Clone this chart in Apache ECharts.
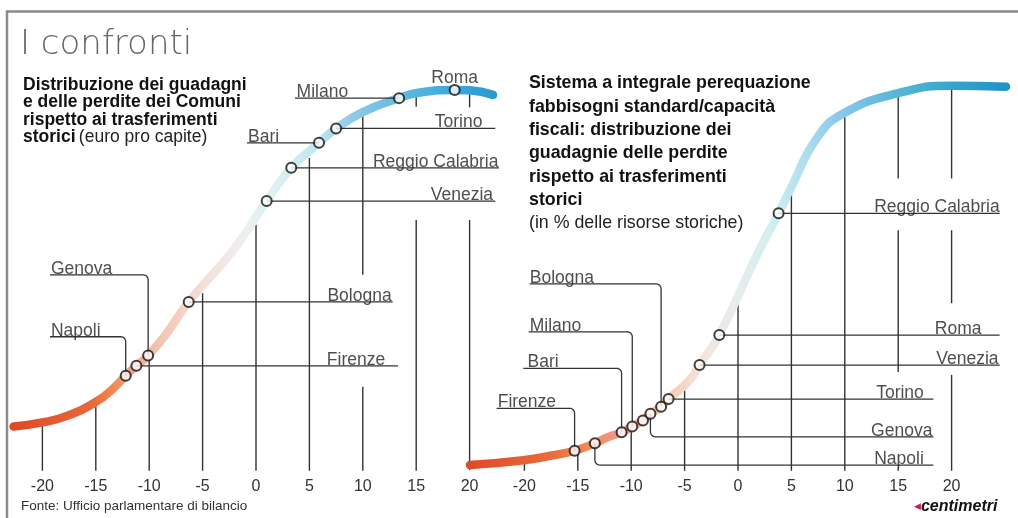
<!DOCTYPE html>
<html><head><meta charset="utf-8">
<script src="https://cdn.jsdelivr.net/npm/echarts@6/dist/echarts.min.js"></script>
<style>html,body{margin:0;padding:0;background:#fff}#c{width:1018px;height:518px}</style>
</head><body><div id="c"></div>
<script>
// ---------------- DATA ----------------
const tickLabels = [-20, -15, -10, -5, 0, 5, 10, 15, 20];

// Left panel: euro pro capite
const leftCurve = [[-22.7,10.6],[-20,11.6],[-17.7,13.2],[-15,16.6],[-13.4,19.8],[-12.2,23.0],[-11.2,25.4],[-10.1,27.9],[-8.4,33.2],[-6.3,41.0],[-2.1,53.7],[1.0,65.6],[3.3,73.7],[5.9,79.8],[7.5,83.3],[10,87.3],[13.4,90.7],[15.2,92.0],[18.6,92.7],[20.0,92.6],[22.2,91.5]];
const leftNames = ['Napoli','Firenze','Genova','Bologna','Venezia','Reggio Calabria','Bari','Torino','Milano','Roma'];
const leftX = [-12.2, -11.2, -10.1, -6.3, 1.0, 3.3, 5.9, 7.5, 13.4, 18.6];
const leftY = [23.0, 25.4, 27.9, 41.0, 65.6, 73.7, 79.8, 83.3, 90.7, 92.7];
const leftTickLines = [[-20,11.6,-1],[-15,16.6,-1],[-10,27.9,-1],[-5,43.1,-1],[0,59.8,-1],[5,76.1,-1],[10,86.6,47.6],[10,20.3,-1],[15,91.0,88.6],[15,61,-1],[20,93.2,88.5],[20,61,0]];

// Right panel: % delle risorse storiche
const rightCurve = [[-25.1,1.2],[-20.1,2.4],[-17.3,3.6],[-15.3,4.7],[-13.4,6.5],[-12.3,7.9],[-10.9,9.2],[-9.9,10.6],[-8.9,12.1],[-8.2,13.7],[-7.2,15.4],[-6.5,17.3],[-4.5,22.0],[-3.6,25.6],[-1.75,32.9],[1.4,50.4],[2.7,57.2],[3.8,62.6],[4.9,68.5],[7.4,81.0],[9.9,87.0],[15.0,91.9],[20.0,93.7],[25.1,93.5]];
const rightNames = ['Firenze','Napoli','Bari','Milano','','Genova','Bologna','Torino','Venezia','Roma','Reggio Calabria'];
const rightX = [-15.3, -13.4, -10.9, -9.9, -8.9, -8.2, -7.2, -6.5, -3.6, -1.75, 3.8];
const rightY = [4.7, 6.5, 9.2, 10.6, 12.1, 13.7, 15.4, 17.3, 25.6, 32.9, 62.6];
const rightTickLines = [[-20,2.4,-1],[-15,4.7,-1],[-10,10.6,-1],[-5,19.9,-1],[0,41.6,-1],[5,69.9,-1],[10,87.0,-1],[15,91.9,71.1],[15,58.5,23.9],[15,0.6,-1],[20,93.9,71.1],[20,58.5,40.7],[20,23.2,-1]];

// ---------------- LAYOUT (annotation placement) ----------------
const leftLayout = [
  {t:'EL', turnY:32.5, end:-19.3, lab:-19.2},
  {t:'R', end:13.3, lab:12.1},
  {t:'EL', turnY:47.6, end:-19.3, lab:-19.2},
  {t:'R', end:12.8, lab:12.7},
  {t:'R', end:22.4, lab:22.2},
  {t:'R', end:22.75, lab:22.7},
  {t:'L', end:-0.84, lab:-0.75},
  {t:'R', end:22.4, lab:21.2},
  {t:'L', end:3.65, lab:3.8},
  {t:'T'}
];
const rightLayout = [
  {t:'EL', turnY:15.05, end:-22.6, lab:-22.5},
  {t:'ER', turnY:1.2, end:18.3, lab:17.4},
  {t:'EL', turnY:24.8, end:-20.1, lab:-19.7},
  {t:'EL', turnY:33.7, end:-19.6, lab:-19.5},
  {t:'N'},
  {t:'ER', turnY:8.1, end:18.3, lab:18.2},
  {t:'EL', turnY:45.4, end:-19.5, lab:-19.5},
  {t:'R', end:18.3, lab:17.4},
  {t:'R', end:24.5, lab:24.4},
  {t:'R', end:24.5, lab:22.8},
  {t:'R', end:24.5, lab:24.5}
];

const GRID_TOP = 60, GRID_H = 410;
const grids = [
  {left: 10.36, top: GRID_TOP, width: 491.28, height: GRID_H, min: -23, max: 23},
  {left: 465.66, top: GRID_TOP, width: 544.68, height: GRID_H, min: -25.5, max: 25.5}
];
const FONT = "'Liberation Sans', Arial, sans-serif";
const INK = '#222';

function pxPerX(g){ return g.width / (g.max - g.min); }
const pxPerY = GRID_H / 100;

function roundCorner(A, C, B, r, g){
  const kx = pxPerX(g), ky = pxPerY;
  const dA = [Math.sign(A[0]-C[0]), Math.sign(A[1]-C[1])];
  const dB = [Math.sign(B[0]-C[0]), Math.sign(B[1]-C[1])];
  const pts = [];
  const n = 6;
  for (let i = 0; i <= n; i++) {
    const t = i / n * Math.PI / 2;
    const ox = dA[0]*r + dB[0]*r - dB[0]*r*Math.cos(t) - dA[0]*r*Math.sin(t);
    const oy = dA[1]*r + dB[1]*r - dB[1]*r*Math.cos(t) - dA[1]*r*Math.sin(t);
    pts.push([C[0] + ox / kx, C[1] + oy / ky]);
  }
  return pts;
}

function buildLeaders(xs, ys, layout, g){
  const out = [];
  layout.forEach((L, i) => {
    const x = xs[i], y = ys[i];
    if (L.t === 'R' || L.t === 'L') out.push({coords: [[x, y], [L.end, y]]});
    else if (L.t === 'EL' || L.t === 'ER') {
      const A = [x, y], C = [x, L.turnY], B = [L.end, L.turnY];
      out.push({coords: [A].concat(roundCorner(A, C, B, 5, g)).concat([B])});
    }
  });
  return out;
}
function buildLabels(names, xs, ys, layout){
  const out = [];
  layout.forEach((L, i) => {
    if (L.t === 'N') return;
    if (L.t === 'T') {
      out.push({name: names[i], value: [xs[i], ys[i]], label: {align: 'center', verticalAlign: 'bottom', offset: [0, -3]}});
      return;
    }
    const ly = (L.t === 'EL' || L.t === 'ER') ? L.turnY : ys[i];
    const right = (L.t === 'R' || L.t === 'ER');
    out.push({name: names[i], value: [L.lab, ly], label: {align: right ? 'right' : 'left', verticalAlign: 'bottom', offset: [0, 3]}});
  });
  return out;
}
function tickSegs(list){ return list.map(s => ({coords: [[s[0], s[1]], [s[0], s[2]]]})); }

function grad(stops){
  return new echarts.graphic.LinearGradient(0, 0, 1, 0, stops.map(s => ({offset: s[0], color: s[1]})));
}
const leftStops = [[0,'#de4826'],[0.17,'#e8683a'],[0.21,'#ee8a4e'],[0.25,'#f0a28e'],[0.31,'#f4c4b0'],[0.4,'#f4e0d8'],[0.47,'#eeeeee'],[0.54,'#def2f2'],[0.63,'#bfe6ee'],[0.7,'#8fcbe9'],[0.82,'#5ab6e0'],[0.92,'#3aa6d8'],[1,'#2a98d0']];
const rightStops = [[0,'#de4826'],[0.15,'#e86a3a'],[0.22,'#ee8a52'],[0.29,'#f29a90'],[0.37,'#f6c8b0'],[0.43,'#f4e4dc'],[0.5,'#e8ecec'],[0.56,'#d2efef'],[0.62,'#b0dff0'],[0.68,'#8fc9ea'],[0.78,'#5ab8d8'],[0.88,'#3aa8cc'],[1,'#1e90c4']];

const series = [];
const panels = [
  {curve: leftCurve, names: leftNames, xs: leftX, ys: leftY, ticks: leftTickLines, layout: leftLayout, stops: leftStops},
  {curve: rightCurve, names: rightNames, xs: rightX, ys: rightY, ticks: rightTickLines, layout: rightLayout, stops: rightStops}
];
panels.forEach((P, k) => {
  const g = grids[k];
  series.push({type: 'lines', coordinateSystem: 'cartesian2d', xAxisIndex: k, yAxisIndex: k, polyline: true, silent: true, z: 1,
    lineStyle: {color: '#333', width: 1.4, opacity: 1}, data: tickSegs(P.ticks)});
  series.push({type: 'line', xAxisIndex: k, yAxisIndex: k, data: P.curve, smooth: 0.5, symbol: 'none', clip: false, silent: true, z: 3,
    lineStyle: {width: 8.5, color: grad(P.stops), cap: 'round'}});
  series.push({type: 'lines', coordinateSystem: 'cartesian2d', xAxisIndex: k, yAxisIndex: k, polyline: true, silent: true, z: 4,
    lineStyle: {color: '#333', width: 1.3, opacity: 1}, data: buildLeaders(P.xs, P.ys, P.layout, g)});
  series.push({type: 'scatter', xAxisIndex: k, yAxisIndex: k, symbol: 'circle', symbolSize: 10, clip: false, silent: true, z: 5,
    itemStyle: {color: '#fff', borderColor: '#111', borderWidth: 2},
    data: P.xs.map((x, i) => ({name: P.names[i], value: [x, P.ys[i]]}))});
  series.push({type: 'scatter', xAxisIndex: k, yAxisIndex: k, symbolSize: 1, clip: false, silent: true, z: 6,
    itemStyle: {color: 'rgba(0,0,0,0)'},
    label: {show: true, position: 'inside', formatter: p => p.name, fontFamily: FONT, fontSize: 17.5, color: INK},
    data: buildLabels(P.names, P.xs, P.ys, P.layout)});
});

const option = {
  animation: false,
  backgroundColor: '#fff',
  grid: grids.map(g => ({left: g.left, top: g.top, width: g.width, height: g.height})),
  xAxis: grids.map((g, k) => ({gridIndex: k, type: 'value', min: g.min, max: g.max,
    axisLine: {show: false}, axisTick: {show: false, customValues: tickLabels}, splitLine: {show: false},
    axisLabel: {customValues: tickLabels, margin: 9, fontFamily: FONT, fontSize: 16, color: '#333'}})),
  yAxis: grids.map((g, k) => ({gridIndex: k, type: 'value', min: 0, max: 100, show: false, splitLine: {show: false}})),
  graphic: [
    {type: 'polyline', shape: {points: [[7, 540], [7, 11.5], [1040, 11.5]]}, style: {stroke: '#8a8a8a', lineWidth: 2.5, fill: null}, silent: true},
    {type: 'text', left: 20, top: 28, style: {text: 'I confronti', font: "300 34px 'DejaVu Sans', sans-serif", fill: '#666'}},
    {type: 'text', x: 23, y: 76.5, style: {
      text: '{b|Distribuzione dei guadagni}\n{b|e delle perdite dei Comuni}\n{b|rispetto ai trasferimenti}\n{b|storici} {r|(euro pro capite)}',
      verticalAlign: 'top',
      rich: {b: {fontFamily: FONT, fontWeight: 'bold', fontSize: 17.5, lineHeight: 17.3, fill: '#111'},
             r: {fontFamily: FONT, fontSize: 17.5, lineHeight: 17.3, fill: '#222'}}}},
    {type: 'text', x: 529, y: 71.8, style: {
      text: '{b|Sistema a integrale perequazione}\n{b|fabbisogni standard/capacità}\n{b|fiscali: distribuzione dei}\n{b|guadagnie delle perdite}\n{b|rispetto ai trasferimenti}\n{b|storici}\n{r|(in % delle risorse storiche)}',
      verticalAlign: 'top',
      rich: {b: {fontFamily: FONT, fontWeight: 'bold', fontSize: 17.8, lineHeight: 23.3, fill: '#111'},
             r: {fontFamily: FONT, fontSize: 17.8, lineHeight: 23.3, fill: '#222'}}}},
    {type: 'text', x: 21, y: 506.5, style: {text: 'Fonte: Ufficio parlamentare di bilancio', font: "13.5px 'Liberation Sans', Arial, sans-serif", fill: '#333', verticalAlign: 'middle'}},
    {type: 'text', x: 914, y: 506.5, style: {text: '{a|◀}{b|centimetri}', verticalAlign: 'middle',
      rich: {a: {fontSize: 9, fill: '#c8204a', fontFamily: 'DejaVu Sans'}, b: {fontSize: 16, fontWeight: 'bold', fontStyle: 'italic', fontFamily: FONT, fill: '#111'}}}}
  ],
  series: series
};
const chart = echarts.init(document.getElementById('c'), null, {renderer: 'canvas'});
chart.setOption(option);
</script></body></html>
